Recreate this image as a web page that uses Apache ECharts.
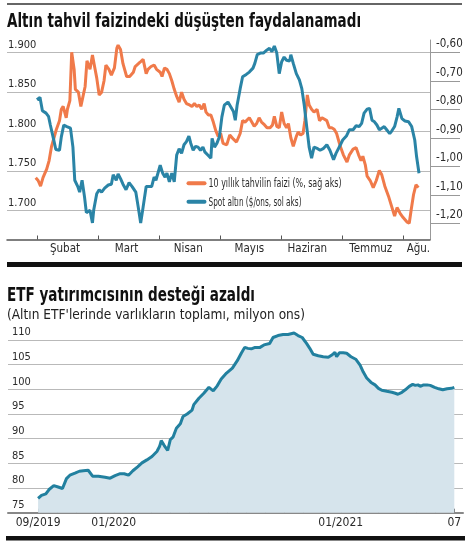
<!DOCTYPE html>
<html><head><meta charset="utf-8">
<script src="https://cdn.jsdelivr.net/npm/echarts@6/dist/echarts.min.js"></script>
<style>html,body{margin:0;padding:0;background:#fff}#c{width:472px;height:546px}</style>
</head><body><div id="c"></div>
<script>
// ---- Chart 1: gold spot vs 10y real yield (x in months since 1 Feb 2021) ----
const goldM = [0.00,0.05,0.09,0.15,0.19,0.22,0.27,0.31,0.37,0.40,0.44,0.49,0.55,0.59,0.62,0.67,0.70,0.74,0.78,0.81,0.87,0.91,0.93,0.98,1.02,1.06,1.11,1.17,1.22,1.25,1.30,1.33,1.37,1.41,1.46,1.51,1.56,1.62,1.66,1.70,1.74,1.79,1.84,1.88,1.92,1.95,2.02,2.06,2.10,2.13,2.17,2.21,2.25,2.29,2.33,2.37,2.41,2.45,2.49,2.52,2.56,2.60,2.64,2.68,2.72,2.75,2.80,2.85,2.87,2.91,2.95,2.99,3.03,3.07,3.13,3.16,3.22,3.25,3.28,3.33,3.37,3.43,3.48,3.54,3.57,3.61,3.66,3.71,3.77,3.81,3.85,3.89,3.93,3.97,4.01,4.05,4.09,4.14,4.16,4.20,4.25,4.30,4.34,4.38,4.42,4.46,4.50,4.54,4.60,4.64,4.69,4.75,4.80,4.86,4.90,4.96,5.01,5.07,5.12,5.18,5.23,5.28,5.32,5.36,5.41,5.45,5.49,5.53,5.57,5.61,5.65,5.69,5.73,5.78,5.81,5.86,5.90,5.93,5.98,6.03,6.09,6.14,6.19,6.22,6.26];
const goldV = [1840,1843,1826,1823,1819,1808,1791,1777,1776,1793,1808,1806,1804,1780,1738,1730,1723,1738,1717,1697,1700,1684,1700,1721,1726,1723,1728,1732,1733,1745,1738,1746,1740,1733,1726,1735,1730,1723,1704,1684,1704,1730,1730,1730,1742,1738,1757,1747,1742,1747,1736,1747,1736,1770,1778,1772,1783,1787,1794,1785,1776,1781,1780,1776,1780,1774,1770,1766,1791,1780,1785,1793,1818,1833,1837,1836,1825,1814,1833,1854,1869,1872,1875,1880,1886,1897,1899,1899,1903,1905,1901,1908,1899,1873,1888,1894,1890,1889,1897,1886,1873,1865,1854,1833,1806,1780,1766,1780,1778,1776,1778,1783,1776,1764,1772,1781,1789,1794,1802,1802,1807,1806,1810,1823,1828,1829,1814,1812,1808,1802,1804,1806,1802,1797,1800,1806,1818,1829,1816,1813,1812,1806,1789,1768,1747];
const yieldM = [-0.02,0.02,0.06,0.10,0.16,0.20,0.24,0.28,0.32,0.37,0.40,0.43,0.48,0.50,0.54,0.57,0.61,0.63,0.68,0.72,0.75,0.79,0.82,0.87,0.91,0.94,0.98,1.02,1.06,1.10,1.13,1.18,1.22,1.27,1.31,1.33,1.37,1.41,1.47,1.52,1.58,1.61,1.64,1.69,1.74,1.79,1.82,1.87,1.92,1.96,2.02,2.05,2.09,2.13,2.17,2.21,2.25,2.29,2.33,2.37,2.41,2.45,2.50,2.54,2.58,2.62,2.66,2.70,2.74,2.77,2.81,2.85,2.89,2.93,2.97,3.01,3.05,3.11,3.16,3.22,3.27,3.33,3.37,3.41,3.44,3.48,3.52,3.56,3.60,3.64,3.68,3.73,3.77,3.82,3.86,3.89,3.93,3.97,4.01,4.05,4.09,4.12,4.16,4.20,4.25,4.28,4.32,4.36,4.39,4.43,4.46,4.50,4.54,4.59,4.63,4.67,4.70,4.75,4.79,4.83,4.87,4.91,4.97,5.02,5.08,5.12,5.18,5.23,5.27,5.31,5.34,5.38,5.41,5.46,5.51,5.56,5.61,5.65,5.70,5.76,5.81,5.86,5.90,5.95,6.00,6.06,6.10,6.13,6.17,6.21,6.25];
const yieldV = [-1.04,-1.05,-1.07,-1.04,-1.01,-0.98,-0.93,-0.90,-0.87,-0.84,-0.80,-0.79,-0.83,-0.80,-0.77,-0.60,-0.66,-0.73,-0.74,-0.79,-0.76,-0.72,-0.63,-0.66,-0.61,-0.645,-0.69,-0.75,-0.74,-0.70,-0.645,-0.66,-0.68,-0.655,-0.585,-0.575,-0.59,-0.64,-0.685,-0.685,-0.67,-0.65,-0.655,-0.635,-0.625,-0.675,-0.66,-0.65,-0.645,-0.66,-0.67,-0.685,-0.655,-0.66,-0.675,-0.70,-0.73,-0.755,-0.775,-0.74,-0.765,-0.78,-0.785,-0.79,-0.78,-0.79,-0.785,-0.80,-0.78,-0.81,-0.82,-0.82,-0.845,-0.875,-0.895,-0.885,-0.92,-0.925,-0.89,-0.905,-0.915,-0.885,-0.84,-0.845,-0.84,-0.83,-0.845,-0.86,-0.85,-0.83,-0.845,-0.855,-0.865,-0.865,-0.855,-0.825,-0.86,-0.865,-0.81,-0.85,-0.865,-0.85,-0.90,-0.93,-0.895,-0.88,-0.89,-0.885,-0.84,-0.75,-0.785,-0.80,-0.81,-0.80,-0.84,-0.83,-0.825,-0.84,-0.865,-0.865,-0.87,-0.885,-0.93,-0.96,-0.985,-0.96,-0.94,-0.935,-0.96,-0.98,-0.965,-0.995,-1.035,-1.05,-1.075,-1.05,-1.015,-1.03,-1.07,-1.105,-1.14,-1.175,-1.145,-1.165,-1.18,-1.195,-1.20,-1.155,-1.10,-1.065,-1.075];
const goldTicks = [1700,1750,1800,1850,1900];
const yieldTicks = [-1.2,-1.1,-1.0,-0.9,-0.8,-0.7,-0.6];
const monthTicks = [0,1,2,3,4,5,6];
const monthLabelPos = [0.46,1.47,2.48,3.48,4.43,5.47,6.25];
const monthLabels = ['Şubat','Mart','Nisan','Mayıs','Haziran','Temmuz','Ağu.'];
const legendNames = ['10 yıllık tahvilin faizi (%, sağ aks)','Spot altın ($/ons, sol aks)'];

// ---- Chart 2: ETF holdings (x in months since 09/2019) ----
const etfM = [0,0.18,0.41,0.58,0.83,1.06,1.29,1.50,1.68,1.95,2.18,2.39,2.65,2.88,3.19,3.54,3.81,4.07,4.34,4.55,4.78,5.01,5.26,5.49,5.75,6.02,6.28,6.42,6.51,6.67,6.85,6.99,7.13,7.31,7.52,7.66,7.88,8.14,8.23,8.50,8.76,9.03,9.26,9.47,9.68,9.96,10.27,10.53,10.74,10.92,11.09,11.27,11.44,11.71,11.94,12.24,12.42,12.68,12.95,13.21,13.53,13.74,13.96,14.19,14.36,14.54,14.81,15.07,15.34,15.55,15.69,15.78,15.92,16.13,16.31,16.54,16.79,17.02,17.19,17.37,17.60,17.81,17.99,18.17,18.43,18.70,18.88,19.02,19.23,19.41,19.62,19.80,19.94,20.08,20.20,20.38,20.56,20.73,20.96,21.18,21.39,21.62,21.85,22.0];
const etfV = [77.9,78.5,78.8,79.7,80.5,80.2,79.9,81.9,82.6,83.0,83.4,83.5,83.6,82.4,82.4,82.2,82.0,82.5,82.9,82.9,82.6,83.5,84.3,85.1,85.7,86.4,87.4,88.4,89.6,88.6,87.6,89.8,90.3,92.1,93.0,94.5,95.0,95.8,96.9,98.2,99.2,100.4,99.7,100.7,102.1,103.3,104.3,105.8,107.3,108.5,108.3,108.2,108.45,108.45,109.0,109.3,110.5,110.9,111.1,111.1,111.4,110.9,110.5,109.3,108.3,107.1,106.8,106.6,106.5,107.0,107.5,106.6,107.4,107.4,107.3,106.6,106.1,104.9,103.5,102.3,101.4,100.9,100.2,99.8,99.6,99.4,99.2,99.0,99.4,99.9,100.6,101.0,100.8,100.9,100.6,100.9,100.9,100.8,100.4,100.1,99.9,100.1,100.2,100.4];
const etfTicks = [75,80,85,90,95,100,105,110];
const etfMonthTicks = [0,1,2,3,4,5,6,7,8,9,10,11,12,13,14,15,16,17,18,19,20,21,22];
const etfLabelPos = [0,4,16,22];
const etfLabels = ['09/2019','01/2020','01/2021','07'];

const FONT = "'Liberation Sans Narrow','DejaVu Sans Condensed','Roboto',sans-serif";
const TXT = '#2b2b2b', GRID = '#b9b9b9';
const ORANGE = '#f07a4a', BLUE = '#2a84a6', ETF = '#22809f';

// condensed text helper: horizontally scales a text to a target width
const mctx = document.createElement('canvas').getContext('2d');
function cText(text, x, y, size, weight, targetW, fill, va) {
  const font = (weight ? weight + ' ' : '') + size + 'px ' + FONT;
  mctx.font = font;
  const w = mctx.measureText(text).width;
  return {type: 'text', x: x, y: y, scaleX: targetW / w, scaleY: 1,
    style: {text: text, font: font, fill: fill || '#111', verticalAlign: va || 'top'}};
}

const zip = (a, b) => a.map((v, i) => [v, b[i]]);
const chart = echarts.init(document.getElementById('c'), null, {renderer: 'canvas'});
chart.setOption({
  animation: false,
  textStyle: {fontFamily: FONT},
  graphic: [
    {type: 'line', shape: {x1: 7, y1: 4, x2: 462, y2: 4}, style: {stroke: '#333', lineWidth: 1.3}},
    cText('Altın tahvil faizindeki düşüşten faydalanamadı', 7, 12.5, 19, 'bold', 354),
    {type: 'rect', shape: {x: 7, y: 262, width: 455, height: 5}, style: {fill: '#111'}},
    cText('ETF yatırımcısının desteği azaldı', 7, 287, 19, 'bold', 248),
    cText("(Altın ETF'lerinde varlıkların toplamı, milyon ons)", 7, 308.5, 14, '', 298, '#222'),
    {type: 'rect', shape: {x: 6, y: 536, width: 459, height: 4.5}, style: {fill: '#111'}},
    // legend
    {type: 'rect', shape: {x: 186.5, y: 181.3, width: 20, height: 4, r: 2}, style: {fill: ORANGE}},
    cText(legendNames[0], 208.5, 183.8, 13, '', 133, TXT, 'middle'),
    {type: 'rect', shape: {x: 186.5, y: 199.7, width: 20, height: 4, r: 2}, style: {fill: BLUE}},
    cText(legendNames[1], 208.5, 202.2, 13, '', 93, TXT, 'middle')
  ],
  grid: [
    {left: 7, right: 42, top: 40, bottom: 306.5},
    {left: 8, right: 9, top: 330.1, bottom: 33.3}
  ],
  xAxis: [
    {type: 'value', gridIndex: 0, min: -0.49, max: 6.44,
      axisLine: {show: true, lineStyle: {color: '#555', width: 1.5}},
      axisTick: {show: true, inside: true, length: 4, customValues: monthTicks, lineStyle: {color: '#555'}},
      axisLabel: {customValues: monthLabelPos, margin: 4, fontSize: 11.5, color: TXT, fontFamily: FONT,
        formatter: v => monthLabels[monthLabelPos.indexOf(v)] || ''},
      splitLine: {show: false}},
    {type: 'value', gridIndex: 1, min: -1.59, max: 22.46,
      axisLine: {show: true, lineStyle: {color: '#888', width: 2}},
      axisTick: {show: true, inside: true, length: 4, customValues: etfMonthTicks, lineStyle: {color: '#666'}},
      axisLabel: {customValues: etfLabelPos, margin: 4, fontSize: 12, color: TXT, fontFamily: FONT,
        formatter: v => etfLabels[etfLabelPos.indexOf(v)] || ''},
      splitLine: {show: false}}
  ],
  yAxis: [
    {type: 'value', gridIndex: 0, min: 1663, max: 1915.6, position: 'left',
      axisLine: {show: false}, axisTick: {show: false, customValues: goldTicks},
      axisLabel: {customValues: goldTicks, inside: true, margin: 1, verticalAlign: 'bottom', padding: [0,0,2,0],
        fontSize: 11, color: TXT, fontFamily: FONT, formatter: v => String(v).replace(/(\d)(\d{3})$/, '$1.$2')},
      splitLine: {show: true, lineStyle: {color: GRID, width: 1}}},
    {type: 'value', gridIndex: 0, min: -1.257, max: -0.557, position: 'right',
      axisLine: {show: true, lineStyle: {color: '#999', width: 1}},
      axisTick: {show: true, length: 30, customValues: yieldTicks, lineStyle: {color: '#999'}},
      axisLabel: {customValues: yieldTicks, margin: 6, verticalAlign: 'bottom', padding: [0,0,2,0],
        fontSize: 11.5, color: TXT, fontFamily: FONT, formatter: v => v.toFixed(2).replace('.', ',')},
      splitLine: {show: false}},
    {type: 'value', gridIndex: 1, min: 75, max: 112,
      axisLine: {show: false}, axisTick: {show: false, customValues: etfTicks},
      axisLabel: {customValues: etfTicks, inside: true, margin: 4, verticalAlign: 'bottom', padding: [0,0,2,0],
        fontSize: 11, color: TXT, fontFamily: FONT},
      splitLine: {show: true, lineStyle: {color: GRID, width: 1}}}
  ],
  series: [
    {name: legendNames[0], type: 'line', xAxisIndex: 0, yAxisIndex: 1, data: zip(yieldM, yieldV),
      showSymbol: false, symbol: 'none', lineStyle: {color: ORANGE, width: 3}, itemStyle: {color: ORANGE}, clip: true},
    {name: legendNames[1], type: 'line', xAxisIndex: 0, yAxisIndex: 0, data: zip(goldM, goldV),
      showSymbol: false, symbol: 'none', lineStyle: {color: BLUE, width: 3}, itemStyle: {color: BLUE}, clip: true},
    {name: 'ETF', type: 'line', xAxisIndex: 1, yAxisIndex: 2, data: zip(etfM, etfV),
      showSymbol: false, symbol: 'none', lineStyle: {color: ETF, width: 3}, itemStyle: {color: ETF},
      areaStyle: {color: '#d6e4ec', opacity: 1, origin: 'start'}}
  ]
});
</script></body></html>
